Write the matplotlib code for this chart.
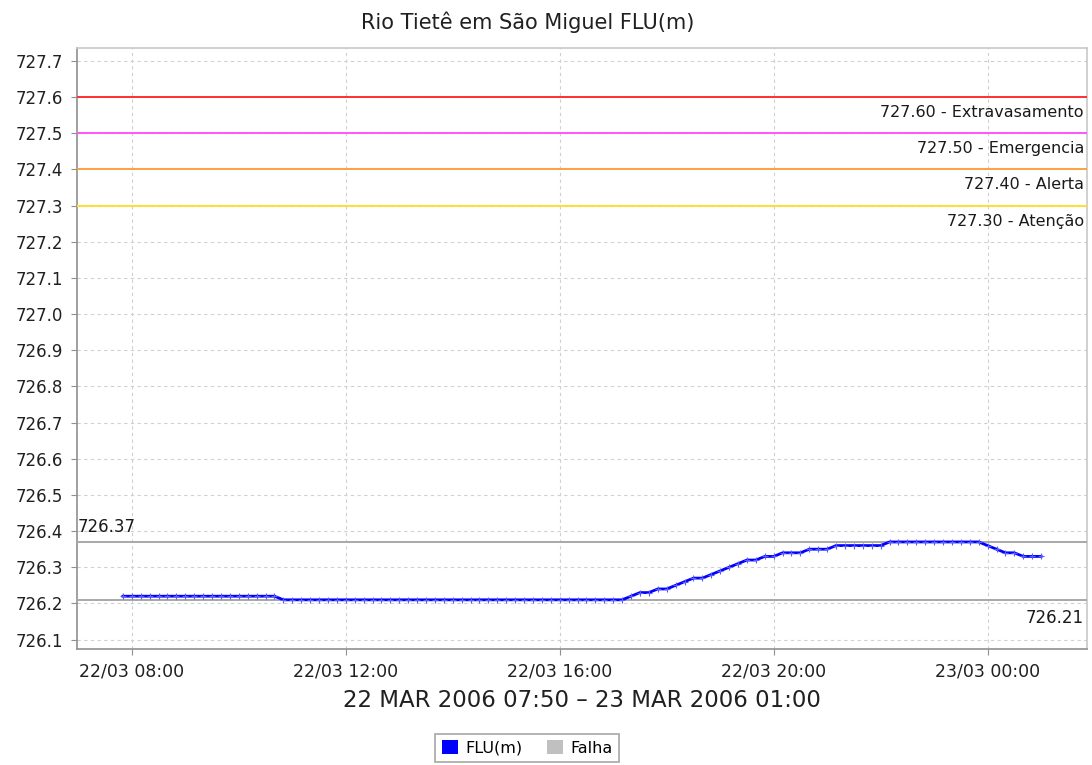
import matplotlib
matplotlib.use("Agg")
import matplotlib.pyplot as plt
import matplotlib.dates as mdates
from matplotlib.patches import Patch
import numpy as np
import pandas as pd

# ---- data ----
start_time = "2006-03-22 07:50"
end_time = "2006-03-23 01:00"
step = "10min"
flu_values = (
    [726.22] * 18 +          # 07:50 - 10:40
    [726.21] * 39 +          # 10:50 - 17:10
    [726.22, 726.23, 726.23, 726.24, 726.24, 726.25, 726.26, 726.27, 726.27,
     726.28, 726.29, 726.30, 726.31, 726.32, 726.32, 726.33, 726.33,
     726.34, 726.34, 726.34, 726.35, 726.35, 726.35] +
    [726.36] * 6 +           # 21:10 - 22:00
    [726.37] * 11 +          # 22:10 - 23:50
    [726.36, 726.35, 726.34, 726.34, 726.33, 726.33, 726.33]
)
threshold_values = [727.60, 727.50, 727.40, 727.30]
threshold_names = ["Extravasamento", "Emergencia", "Alerta", "Atenção"]
threshold_colors = ["#ff3030", "#ff55ff", "#ffa040", "#ffe030"]
max_value = 726.37
min_value = 726.21
title = "Rio Tietê em São Miguel FLU(m)"
xlabel = "22 MAR 2006 07:50 – 23 MAR 2006 01:00"
legend_labels = ["FLU(m)", "Falha"]

times = pd.date_range(start_time, end_time, freq=step)

# ---- figure ----
fig = plt.figure(figsize=(10.92, 7.65), dpi=100)
ax = fig.add_axes([77/1092, 1 - 649/765, (1087-77)/1092, (649-48.3)/765])

ax.plot(times, flu_values, color="#0000ff", lw=2.0, marker="+", ms=4, mew=0.8,
        mec="#5a5aff", zorder=5)

for v, c in zip(threshold_values, threshold_colors):
    ax.axhline(v, color=c, lw=1.4, zorder=3)
for v, name in zip(threshold_values, threshold_names):
    ax.annotate(f"{v:.2f} - {name}", xy=(1, v), xycoords=("axes fraction", "data"),
                xytext=(-3, -8), textcoords="offset pixels", ha="right", va="top",
                fontsize=11.5, color="#1a1a1a")

ax.axhline(max_value, color="#a8a8a8", lw=1.4, zorder=3)
ax.axhline(min_value, color="#a8a8a8", lw=1.4, zorder=3)
ax.annotate(f"{max_value:.2f}", xy=(0, max_value), xycoords=("axes fraction", "data"),
            xytext=(1, 10), textcoords="offset pixels", ha="left", va="baseline",
            fontsize=12, color="#1a1a1a")
ax.annotate(f"{min_value:.2f}", xy=(1, min_value), xycoords=("axes fraction", "data"),
            xytext=(-3, -9), textcoords="offset pixels", ha="right", va="top",
            fontsize=12, color="#1a1a1a")

ax.set_ylim(726.074, 727.735)
ax.set_yticks(np.round(np.arange(726.1, 727.75, 0.1), 1))
ax.yaxis.set_major_formatter(matplotlib.ticker.FormatStrFormatter("%.1f"))
ax.margins(x=0.05)
ax.xaxis.set_major_locator(mdates.HourLocator(byhour=[0, 4, 8, 12, 16, 20]))
ax.xaxis.set_major_formatter(mdates.DateFormatter("%d/%m %H:%M"))

ax.grid(True, color="#d0d0d0", lw=0.8, ls=(0, (3, 3)))
ax.set_axisbelow(True)
ax.tick_params(axis="both", direction="out", length=4, color="#909090",
               labelcolor="#202020")
ax.tick_params(axis="y", labelsize=12, pad=6)
ax.tick_params(axis="x", labelsize=12.5, pad=6)
for s in ["left", "bottom"]:
    ax.spines[s].set_color("#909090")
    ax.spines[s].set_linewidth(1.2)
for s in ["top", "right"]:
    ax.spines[s].set_color("#c8c8c8")
    ax.spines[s].set_linewidth(1.2)

ax.set_xlabel(xlabel, fontsize=16.5, color="#202020", labelpad=6)
fig.text(0.483, 1 - 22/765, title, ha="center", va="center", fontsize=15,
         color="#202020")

handles = [Patch(facecolor="#0000ff", edgecolor="none"),
           Patch(facecolor="#c0c0c0", edgecolor="none")]
leg = fig.legend(handles, legend_labels, loc="center", bbox_to_anchor=(0.483, 1 - 748/765),
                 ncol=2, fontsize=11.5, frameon=True, fancybox=False,
                 handlelength=1.0, handleheight=1.0, handletextpad=0.5,
                 columnspacing=1.5, borderpad=0.4)
leg.get_frame().set_edgecolor("#909090")
leg.get_frame().set_linewidth(1.2)

fig.savefig("out.png", dpi=100)
